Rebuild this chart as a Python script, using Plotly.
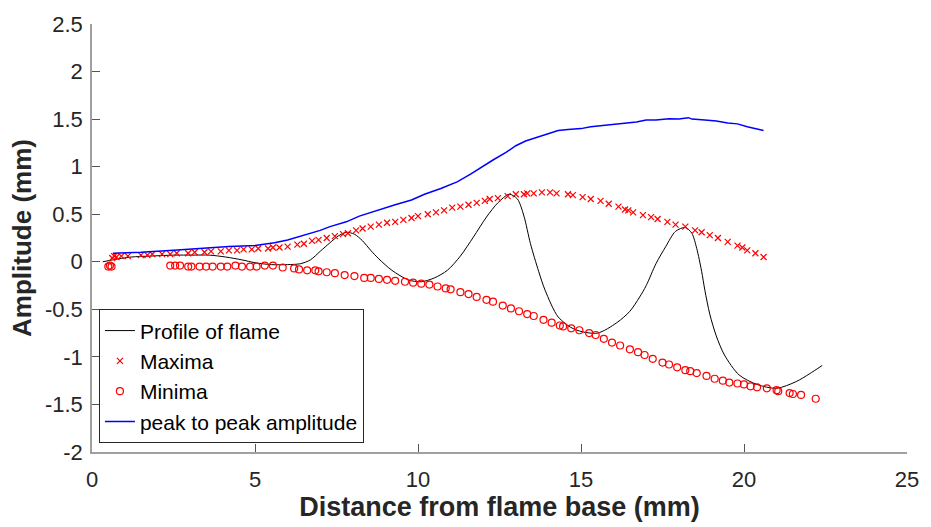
import plotly.graph_objects as go

# Flame profile (mm)
profile_x = [0.33, 0.8, 1.2, 1.8, 2.5, 3.1, 3.6, 4.1, 4.6, 5.0, 5.5, 6.0, 6.4, 6.7,
             7.0, 7.3, 7.55, 7.8, 8.05, 8.3, 8.55, 8.8, 9.2, 9.7, 10.1, 10.5, 10.9,
             11.3, 11.7, 12.1, 12.45, 12.8, 13.05, 13.25, 13.45, 13.7, 13.9, 14.3,
             14.8, 15.5, 16.1, 16.5, 16.8, 17.0, 17.3, 17.6, 17.9, 18.2, 18.4, 18.55,
             18.7, 18.8, 18.95, 19.15, 19.4, 19.85, 20.4, 21.0, 21.6, 22.0, 22.4]
profile_y = [0.0, 0.03, 0.05, 0.06, 0.07, 0.07, 0.07, 0.05, 0.02, -0.01, -0.03, -0.03,
             -0.02, 0.02, 0.11, 0.2, 0.27, 0.31, 0.29, 0.22, 0.12, 0.03, -0.09, -0.19,
             -0.21, -0.17, -0.09, 0.06, 0.26, 0.47, 0.62, 0.71, 0.66, 0.48, 0.19, -0.1,
             -0.3, -0.58, -0.71, -0.75, -0.64, -0.52, -0.37, -0.25, -0.02, 0.16, 0.32,
             0.36, 0.3, 0.14, -0.1, -0.3, -0.55, -0.78, -0.98, -1.19, -1.29, -1.33,
             -1.26, -1.18, -1.09]

# Local maxima of the profile
max_x = [0.62, 0.68, 0.75, 0.9, 1.1, 1.5, 1.7, 1.85, 2.15, 2.4, 2.6, 2.95, 3.15, 3.45,
         3.65, 3.95, 4.2, 4.45, 4.65, 4.9, 5.1, 5.4, 5.55, 5.75, 6.0, 6.3, 6.5, 6.75,
         6.95, 7.2, 7.45, 7.7, 7.85, 8.1, 8.3, 8.55, 8.8, 9.05, 9.3, 9.55, 9.8, 10.0,
         10.3, 10.55, 10.8, 11.05, 11.3, 11.55, 11.8, 12.05, 12.2, 12.45, 12.75, 13.0,
         13.25, 13.35, 13.55, 13.8, 14.05, 14.25, 14.6, 14.75, 15.05, 15.3, 15.6,
         15.85, 16.15, 16.35, 16.45, 16.6, 16.9, 17.15, 17.35, 17.65, 17.9, 18.2,
         18.5, 18.7, 18.95, 19.2, 19.5, 19.8, 19.95, 20.1, 20.35, 20.6]
max_y = [0.04, 0.06, 0.05, 0.06, 0.06, 0.07, 0.07, 0.08, 0.08, 0.08, 0.09, 0.09, 0.10,
         0.10, 0.11, 0.11, 0.12, 0.12, 0.13, 0.13, 0.14, 0.14, 0.15, 0.15, 0.16, 0.18,
         0.19, 0.22, 0.23, 0.25, 0.27, 0.29, 0.30, 0.33, 0.35, 0.37, 0.39, 0.41, 0.42,
         0.44, 0.46, 0.48, 0.50, 0.52, 0.54, 0.57, 0.58, 0.60, 0.62, 0.64, 0.66, 0.67,
         0.69, 0.71, 0.71, 0.72, 0.72, 0.73, 0.73, 0.72, 0.71, 0.70, 0.68, 0.66, 0.64,
         0.61, 0.58, 0.55, 0.54, 0.52, 0.49, 0.47, 0.45, 0.42, 0.39, 0.37, 0.33, 0.31,
         0.28, 0.25, 0.21, 0.17, 0.15, 0.12, 0.09, 0.05]

# Local minima of the profile
min_x = [0.5, 0.55, 0.6, 2.4, 2.55, 2.7, 2.95, 3.05, 3.3, 3.5, 3.7, 3.95, 4.15, 4.4,
         4.6, 4.85, 5.05, 5.3, 5.55, 5.85, 6.2, 6.35, 6.6, 6.85, 6.95, 7.2, 7.45, 7.75,
         8.05, 8.35, 8.55, 8.8, 9.05, 9.3, 9.6, 9.85, 10.1, 10.35, 10.6, 10.85, 11.0,
         11.3, 11.55, 11.8, 12.1, 12.3, 12.6, 12.85, 13.1, 13.35, 13.55, 13.85, 14.1,
         14.35, 14.45, 14.7, 14.95, 15.25, 15.45, 15.7, 15.95, 16.2, 16.5, 16.75,
         16.95, 17.2, 17.5, 17.7, 17.95, 18.2, 18.35, 18.55, 18.85, 19.1, 19.35,
         19.55, 19.8, 20.0, 20.2, 20.4, 20.7, 21.0, 21.05, 21.4, 21.5, 21.75, 22.2]
min_y = [-0.05, -0.04, -0.05, -0.04, -0.04, -0.04, -0.05, -0.05, -0.05, -0.05, -0.05,
         -0.05, -0.05, -0.04, -0.05, -0.05, -0.05, -0.04, -0.04, -0.06, -0.07, -0.08,
         -0.09, -0.09, -0.10, -0.11, -0.12, -0.14, -0.15, -0.17, -0.17, -0.18, -0.19,
         -0.20, -0.21, -0.22, -0.23, -0.24, -0.26, -0.28, -0.29, -0.32, -0.34, -0.37,
         -0.40, -0.42, -0.46, -0.49, -0.52, -0.55, -0.57, -0.61, -0.64, -0.67, -0.68,
         -0.70, -0.72, -0.75, -0.77, -0.81, -0.85, -0.88, -0.92, -0.95, -0.98, -1.02,
         -1.06, -1.08, -1.11, -1.14, -1.15, -1.17, -1.20, -1.23, -1.25, -1.27, -1.28,
         -1.29, -1.31, -1.32, -1.33, -1.35, -1.36, -1.38, -1.39, -1.40, -1.44]

# Peak-to-peak amplitude along the flame
p2p_x = [0.64, 1.5, 2.5, 3.3, 4.2, 5.0, 5.6, 6.0, 6.5, 7.0, 7.3, 7.8, 8.2, 8.8, 9.3,
         9.8, 10.2, 10.7, 11.2, 11.6, 12.0, 12.3, 12.7, 13.0, 13.3, 13.75, 14.0, 14.3,
         14.6, 15.0, 15.3, 15.6, 16.0, 16.4, 16.7, 17.0, 17.3, 17.7, 18.0, 18.3, 18.4,
         18.8, 19.15, 19.5, 19.8, 20.1, 20.6]
p2p_y = [0.09, 0.10, 0.12, 0.14, 0.16, 0.17, 0.20, 0.23, 0.28, 0.33, 0.37, 0.42, 0.48,
         0.55, 0.60, 0.65, 0.71, 0.77, 0.84, 0.92, 1.01, 1.07, 1.15, 1.22, 1.27, 1.32,
         1.35, 1.38, 1.39, 1.40, 1.42, 1.43, 1.45, 1.46, 1.47, 1.49, 1.49, 1.505, 1.50,
         1.515, 1.50, 1.49, 1.48, 1.46, 1.45, 1.42, 1.38]

x_ticks = [0, 5, 10, 15, 20, 25]
y_ticks = [-2, -1.5, -1, -0.5, 0, 0.5, 1, 1.5, 2, 2.5]

FONT = "Liberation Sans, Arial, Helvetica, sans-serif"

fig = go.Figure()
fig.add_trace(go.Scatter(x=profile_x, y=profile_y, mode="lines", name="Profile of flame",
                         line=dict(color="#000000", width=1, shape="spline", smoothing=0.8)))
fig.add_trace(go.Scatter(x=max_x, y=max_y, mode="markers", name="Maxima",
                         marker=dict(symbol="x-thin-open", size=6, color="#ff0000",
                                     line=dict(color="#ff0000", width=1.2))))
fig.add_trace(go.Scatter(x=min_x, y=min_y, mode="markers", name="Minima",
                         marker=dict(symbol="circle-open", size=7, color="#ff0000",
                                     line=dict(color="#ff0000", width=1.2))))
fig.add_trace(go.Scatter(x=p2p_x, y=p2p_y, mode="lines", name="peak to peak amplitude",
                         line=dict(color="#0000ff", width=1.5)))

axis_common = dict(
    showline=True, linecolor="#a0a0a0", linewidth=1.5,
    ticks="inside", ticklen=8, tickwidth=1, tickcolor="#555555",
    showgrid=False, zeroline=False, mirror=False,
    tickfont=dict(family=FONT, size=22, color="#262626"),
)

fig.update_layout(
    width=931, height=527,
    margin=dict(l=92, r=19, t=16, b=75),
    paper_bgcolor="white", plot_bgcolor="white",
    xaxis=dict(range=[0, 25], tickvals=x_ticks, ticktext=[str(v) for v in x_ticks],
               ticklabelstandoff=7,
               title=dict(text="<b>Distance from flame base (mm)</b>", standoff=4,
                          font=dict(family=FONT, size=27, color="#262626")),
               **axis_common),
    yaxis=dict(range=[-2, 2.5], tickvals=y_ticks, ticktext=[f"{v:g}" for v in y_ticks],
               ticklabelstandoff=3,
               title=dict(text="<b>Amplitude (mm)</b>", standoff=6,
                          font=dict(family=FONT, size=26, color="#262626")),
               **axis_common),
    legend=dict(x=0.0085, y=0.02, xanchor="left", yanchor="bottom",
                bgcolor="white", bordercolor="#262626", borderwidth=1,
                font=dict(family=FONT, size=21, color="#000000"),
                tracegroupgap=0),
    showlegend=True,
)

fig.write_html("out.html")
